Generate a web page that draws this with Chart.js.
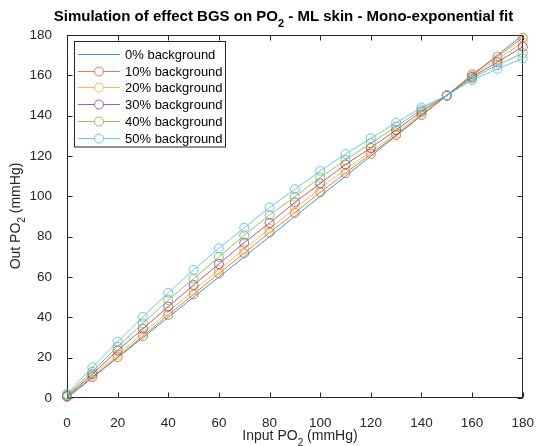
<!DOCTYPE html>
<html>
<head>
<meta charset="utf-8">
<script src="https://cdn.jsdelivr.net/npm/chart.js@4.4.1/dist/chart.umd.min.js"></script>
<style>
  body { margin: 0; background: #fff; }
  #wrap { width: 543px; height: 446px; position: relative; }
</style>
</head>
<body>
<div id="wrap"><canvas id="chart"></canvas></div>
<script>
// Input PO2 values (mmHg)
const inputPO2 = [0, 10, 20, 30, 40, 50, 60, 70, 80, 90, 100, 110, 120, 130, 140, 150, 160, 170, 180];

// Out PO2 for each background level
const bg0  = [0, 10, 20, 30, 40, 50, 60, 70, 80, 90, 100, 110, 120, 130, 140, 150, 160, 170, 180];
const bg10 = [0.5, 10.3, 20.3, 30.7, 41.2, 51.4, 61.8, 71.8, 82.0, 91.8, 102.0, 111.5, 121.0, 130.4, 140.3, 150, 160.5, 169.3, 178.6];
const bg20 = [0.7, 10.9, 21.4, 32.0, 42.8, 53.4, 63.6, 73.8, 84.0, 94.0, 104.0, 113.4, 122.2, 131.3, 140.9, 150, 159.8, 168.0, 176.4];
const bg30 = [1.0, 11.8, 23.6, 34.4, 45.3, 56.0, 66.5, 77.0, 86.8, 97.0, 106.4, 115.8, 124.0, 132.9, 142.0, 150, 159.2, 166.5, 174.2];
const bg40 = [1.5, 13.1, 25.5, 37.0, 48.6, 59.2, 70.0, 80.6, 90.7, 99.8, 109.4, 118.0, 126.3, 134.6, 143.1, 150, 158.5, 165.1, 171.0];
const bg50 = [2.0, 15.2, 27.9, 40.3, 52.2, 63.5, 74.2, 84.4, 94.5, 103.5, 112.6, 121.0, 128.8, 136.5, 144.1, 150, 157.7, 163.2, 168.4];

const seriesLabels = ['0% background', '10% background', '20% background', '30% background', '40% background', '50% background'];
const seriesValues = [bg0, bg10, bg20, bg30, bg40, bg50];
const seriesColors = ['rgba(0,114,189,0.75)', 'rgba(217,83,25,0.75)', 'rgba(237,177,32,0.8)', 'rgba(126,47,142,0.75)', 'rgba(119,172,48,0.75)', 'rgba(77,190,238,0.85)'];
const axisTicks = [0, 20, 40, 60, 80, 100, 120, 140, 160, 180];

const FONT = '"Liberation Sans", Arial, Helvetica, sans-serif';
const INK = '#262626';

// text with a subscript part, e.g. PO + 2
function drawRich(ctx, parts, x, y, size, weight) {
  const subSize = Math.round(size * 0.72);
  let total = 0;
  parts.forEach(p => {
    ctx.font = weight + ' ' + (p.sub ? subSize : size) + 'px ' + FONT;
    p.w = ctx.measureText(p.t).width;
    total += p.w;
  });
  let cx = x - total / 2;
  ctx.textAlign = 'left';
  ctx.textBaseline = 'alphabetic';
  parts.forEach(p => {
    ctx.font = weight + ' ' + (p.sub ? subSize : size) + 'px ' + FONT;
    ctx.fillText(p.t, cx, p.sub ? y + size * 0.4 : y);
    cx += p.w;
  });
}

const boxPlugin = {
  id: 'matlabBox',
  beforeDatasetsDraw(chart) {
    const { ctx, chartArea: a, scales: { x, y } } = chart;
    ctx.save();
    ctx.strokeStyle = INK;
    ctx.lineWidth = 1;
    const l = Math.round(a.left) + 0.5, r = Math.round(a.right) - 0.5;
    const t = Math.round(a.top) + 0.5, b = Math.round(a.bottom) - 0.5;
    ctx.strokeRect(l, t, r - l, b - t);
    ctx.beginPath();
    x.ticks.forEach(tk => {
      const px = Math.round(x.getPixelForValue(tk.value)) + 0.5;
      ctx.moveTo(px, b); ctx.lineTo(px, b - 5);
      ctx.moveTo(px, t); ctx.lineTo(px, t + 5);
    });
    y.ticks.forEach(tk => {
      const py = Math.round(y.getPixelForValue(tk.value)) + 0.5;
      ctx.moveTo(l, py); ctx.lineTo(l + 5, py);
      ctx.moveTo(r, py); ctx.lineTo(r - 5, py);
    });
    ctx.stroke();
    ctx.restore();
  }
};

const textPlugin = {
  id: 'matlabText',
  afterDraw(chart) {
    const ctx = chart.ctx;
    ctx.save();
    ctx.fillStyle = '#000';
    drawRich(ctx, [{ t: 'Simulation of effect BGS on PO' }, { t: '2', sub: true }, { t: ' - ML skin - Mono-exponential fit' }], 283.5, 21, 15, 'bold');
    ctx.fillStyle = INK;
    drawRich(ctx, [{ t: 'Input PO' }, { t: '2', sub: true }, { t: ' (mmHg)' }], 300, 440, 14, 'normal');
    ctx.translate(19.5, 216);
    ctx.rotate(-Math.PI / 2);
    drawRich(ctx, [{ t: 'Out PO' }, { t: '2', sub: true }, { t: ' (mmHg)' }], 0, 0, 14, 'normal');
    ctx.restore();

    // legend box, top left inside the axes
    ctx.save();
    const bx = 74.5, by = 41.5, bw = 151, bh = 105.5;
    ctx.fillStyle = '#fff';
    ctx.fillRect(bx, by, bw, bh);
    ctx.strokeStyle = INK;
    ctx.lineWidth = 1;
    ctx.strokeRect(bx, by, bw, bh);
    ctx.font = '13px ' + FONT;
    ctx.textBaseline = 'middle';
    ctx.textAlign = 'left';
    chart.data.datasets.forEach((ds, i) => {
      const ry = Math.round(54 + i * 16.7) + 0.5;
      ctx.strokeStyle = ds.borderColor;
      ctx.beginPath();
      ctx.moveTo(78, ry); ctx.lineTo(120, ry);
      ctx.stroke();
      if (ds.pointRadius > 0) {
        ctx.beginPath();
        ctx.arc(99, ry, ds.pointRadius, 0, Math.PI * 2);
        ctx.fillStyle = '#fff';
        ctx.fill();
        ctx.stroke();
      }
      ctx.fillStyle = '#000';
      ctx.fillText(ds.label, 125, ry + 0.5);
    });
    ctx.restore();
  }
};

const datasets = seriesLabels.map((label, i) => ({
  label: label,
  data: inputPO2.map((v, j) => ({ x: v, y: seriesValues[i][j] })),
  borderColor: seriesColors[i],
  backgroundColor: 'transparent',
  borderWidth: 1,
  pointRadius: i === 0 ? 0 : 4.5,
  pointHoverRadius: i === 0 ? 0 : 4.5,
  pointBorderWidth: 1,
  pointBorderColor: seriesColors[i],
  pointBackgroundColor: 'transparent',
  tension: 0,
  clip: false,
  order: seriesLabels.length - i
}));

new Chart(document.getElementById('chart'), {
  type: 'line',
  data: { datasets: datasets },
  options: {
    responsive: true,
    maintainAspectRatio: false,
    animation: false,
    layout: { padding: { top: 35, right: 11, left: 0, bottom: 0 } },
    plugins: {
      legend: { display: false },
      title: { display: false },
      tooltip: { enabled: false }
    },
    scales: {
      x: {
        type: 'linear',
        min: 0,
        max: 180,
        afterBuildTicks: s => { s.ticks = axisTicks.map(v => ({ value: v })); },
        afterFit: s => { s.height = 48; },
        grid: { display: false },
        border: { display: false },
        ticks: { color: INK, padding: 9, maxRotation: 0, font: { family: FONT, size: 13.5 } }
      },
      y: {
        type: 'linear',
        min: 0,
        max: 180,
        afterBuildTicks: s => { s.ticks = axisTicks.map(v => ({ value: v })); },
        afterFit: s => { s.width = 67; },
        grid: { display: false },
        border: { display: false },
        ticks: { color: INK, padding: 7, font: { family: FONT, size: 13.5 } }
      }
    }
  },
  plugins: [boxPlugin, textPlugin]
});
</script>
</body>
</html>
